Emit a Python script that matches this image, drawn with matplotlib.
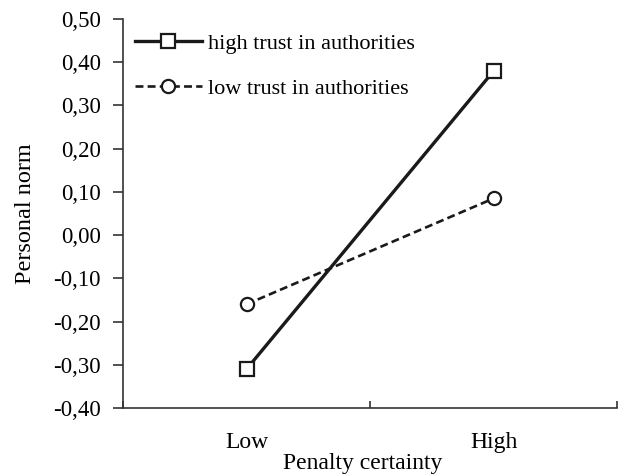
import matplotlib.pyplot as plt
from matplotlib.ticker import FuncFormatter, FixedLocator

plt.rcParams['font.family'] = ['Liberation Serif', 'DejaVu Serif']

categories = ['Low', 'High']
high_trust = [-0.31, 0.38]
low_trust = [-0.16, 0.085]
yticks = [-0.4, -0.3, -0.2, -0.1, 0.0, 0.1, 0.2, 0.3, 0.4, 0.5]

fig = plt.figure(figsize=(6.21, 4.75), dpi=100)
ax = fig.add_axes([0.198, 0.141, 0.796, 0.819])

pos = [0.5, 1.5]
ax.plot(pos, high_trust, '-', color='#1a1a1a', lw=2.4, marker='s', ms=9.5,
        mfc='white', mec='#1a1a1a', mew=1.6, label='high trust in authorities')
ax.plot(pos, low_trust, '--', color='#1a1a1a', lw=1.9, dashes=(3, 1.6), marker='o', ms=9.5,
        mfc='white', mec='#1a1a1a', mew=1.6, label='low trust in authorities')

ax.set_xlim(0, 2)
ax.set_ylim(-0.4, 0.5)
ax.set_yticks(yticks)
ax.yaxis.set_major_formatter(FuncFormatter(lambda v, p: f'{v:.2f}'.replace('.', ',').replace('-0,00', '0,00')))
ax.xaxis.set_major_locator(FixedLocator([0, 1, 2]))
ax.xaxis.set_ticklabels([])
ax.xaxis.set_minor_locator(FixedLocator(pos))
ax.xaxis.set_minor_formatter(FuncFormatter(lambda v, p: categories[int(v)]))
ax.tick_params(axis='x', which='major', direction='in', length=5, width=1.2, color='#333333')
ax.tick_params(axis='x', which='minor', length=0, pad=17, labelsize=17)
ax.tick_params(axis='y', direction='out', length=7, width=1.2, color='#333333', labelsize=16.5, pad=9)

for s in ['top', 'right']:
    ax.spines[s].set_visible(False)
for s in ['left', 'bottom']:
    ax.spines[s].set_color('#333333')
    ax.spines[s].set_linewidth(1.2)

ax.set_xlabel('Penalty certainty', fontsize=17)
ax.xaxis.set_label_coords(0.484, -0.115)
ax.set_ylabel('Personal norm', fontsize=17.5)
ax.yaxis.set_label_coords(-0.176, 0.5)

ax.legend(loc='upper left', bbox_to_anchor=(-0.016, 1.015), frameon=False, fontsize=16,
          handlelength=3.0, labelspacing=1.1, handletextpad=0.3)

fig.savefig('out.png', dpi=100)
